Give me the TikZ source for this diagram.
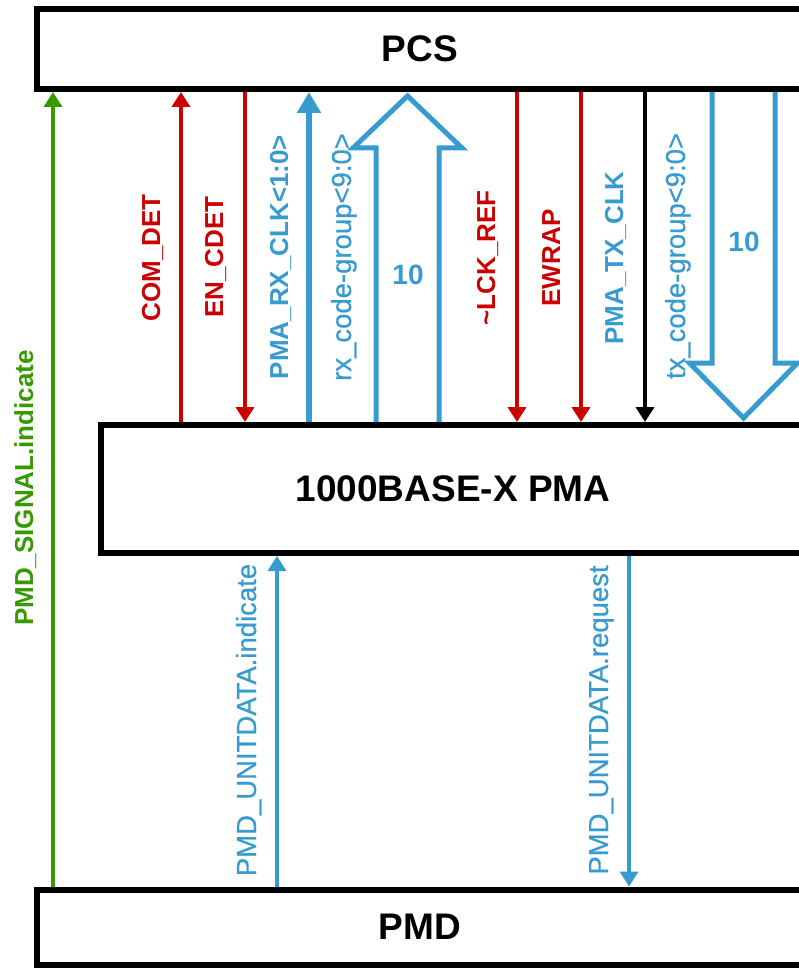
\documentclass[tikz,border=0pt]{standalone}
\usepackage{fontspec}
\setmainfont{Liberation Sans}
\newfontfamily\medfont[FakeBold=0.6]{Liberation Sans}
\usetikzlibrary{arrows.meta,calc}
\definecolor{cred}{RGB}{204,0,0}
\definecolor{cblue}{RGB}{56,155,208}
\definecolor{cgreen}{RGB}{56,153,0}
\begin{document}
\begin{tikzpicture}[x=1pt,y=-1pt,
  box/.style={draw=black, line width=6pt, inner sep=0pt, outer sep=3pt, font=\fontsize{37}{40}\selectfont\bfseries},
  sig/.style={line width=4.5pt, -{Triangle[width=18pt,length=15pt]}},
  bsig/.style={line width=6.5pt, -{Triangle[width=23pt,length=21pt]}},
  lblb/.style={rotate=90, anchor=base, inner sep=0pt, font=\fontsize{26}{30}\selectfont\bfseries},
  lblr/.style={rotate=90, anchor=base, inner sep=0pt, font=\medfont\fontsize{27.5}{30}\selectfont},
  hollow/.style={draw=cblue, line width=5pt, line join=miter},
  num/.style={inner sep=0pt, text=cblue, font=\fontsize{28}{30}\selectfont\bfseries}
]
\useasboundingbox (0,0) rectangle (799,968);
\clip (0,0) rectangle (799,968);

% boxes
\node[box, minimum width=766pt, minimum height=80pt] (pcs) at (420,49) {PCS};
\node[box, minimum width=704pt, minimum height=128pt] (pma) at (453,489) {1000BASE-X PMA};
\node[box, minimum width=766pt, minimum height=75pt] (pmd) at (420,927) {PMD};

% x positions
\coordinate (xg) at (53,0);
\coordinate (xcom) at (181,0);
\coordinate (xen) at (245,0);
\coordinate (xrxclk) at (309,0);
\coordinate (uL) at (376,0);
\coordinate (uR) at (439,0);
\coordinate (xlck) at (517,0);
\coordinate (xew) at (581,0);
\coordinate (xtxclk) at (645,0);
\coordinate (dL) at (712,0);
\coordinate (dR) at (775,0);
\coordinate (xind) at (277,0);
\coordinate (xreq) at (629,0);
\coordinate (ut) at (407.5,96);
\coordinate (dt) at (743.5,418);

% green
\draw[sig, draw=cgreen] (xg |- pmd.north) -- (xg |- pcs.south);
\node[lblb, text=cgreen] at (33,488) {PMD\_SIGNAL.indicate};

% red / black / blue signals PCS <-> PMA
\draw[sig, draw=cred] (xcom |- pma.north) -- (xcom |- pcs.south);
\node[lblb, text=cred] at (160,258) {COM\_DET};
\draw[sig, draw=cred] (xen |- pcs.south) -- (xen |- pma.north);
\node[lblb, text=cred] at (223,257) {EN\_CDET};
\draw[bsig, draw=cblue] (xrxclk |- pma.north) -- (xrxclk |- pcs.south);
\node[lblb, text=cblue] at (288,257) {PMA\_RX\_CLK<1:0>};
\node[lblr, text=cblue] at (351,257) {rx\_code-group<9:0>};

\draw[hollow] (uL |- pma.north) -- (376,148) -- (353,148) -- (ut) -- (462,148) -- (439,148) -- (uR |- pma.north);
\node[num] at (408,275) {10};

\draw[sig, draw=cred] (xlck |- pcs.south) -- (xlck |- pma.north);
\node[lblb, text=cred] at (495,258) {\char`\~LCK\_REF};
\draw[sig, draw=cred] (xew |- pcs.south) -- (xew |- pma.north);
\node[lblb, text=cred] at (560,258) {EWRAP};
\draw[sig, draw=black] (xtxclk |- pcs.south) -- (xtxclk |- pma.north);
\node[lblb, text=cblue] at (623,258) {PMA\_TX\_CLK};
\node[lblr, text=cblue] at (685,256) {tx\_code-group<9:0>};

\draw[hollow] (dL |- pcs.south) -- (712,363) -- (689.5,363) -- (dt) -- (797.5,363) -- (775,363) -- (dR |- pcs.south);
\node[num] at (744,242) {10};

% PMA <-> PMD
\draw[sig, draw=cblue] (xind |- pmd.north) -- (xind |- pma.south);
\node[lblr, text=cblue] at (256,720) {PMD\_UNITDATA.indicate};
\draw[sig, draw=cblue] (xreq |- pma.south) -- (xreq |- pmd.north);
\node[lblr, text=cblue] at (608,720) {PMD\_UNITDATA.request};
\end{tikzpicture}
\end{document}
